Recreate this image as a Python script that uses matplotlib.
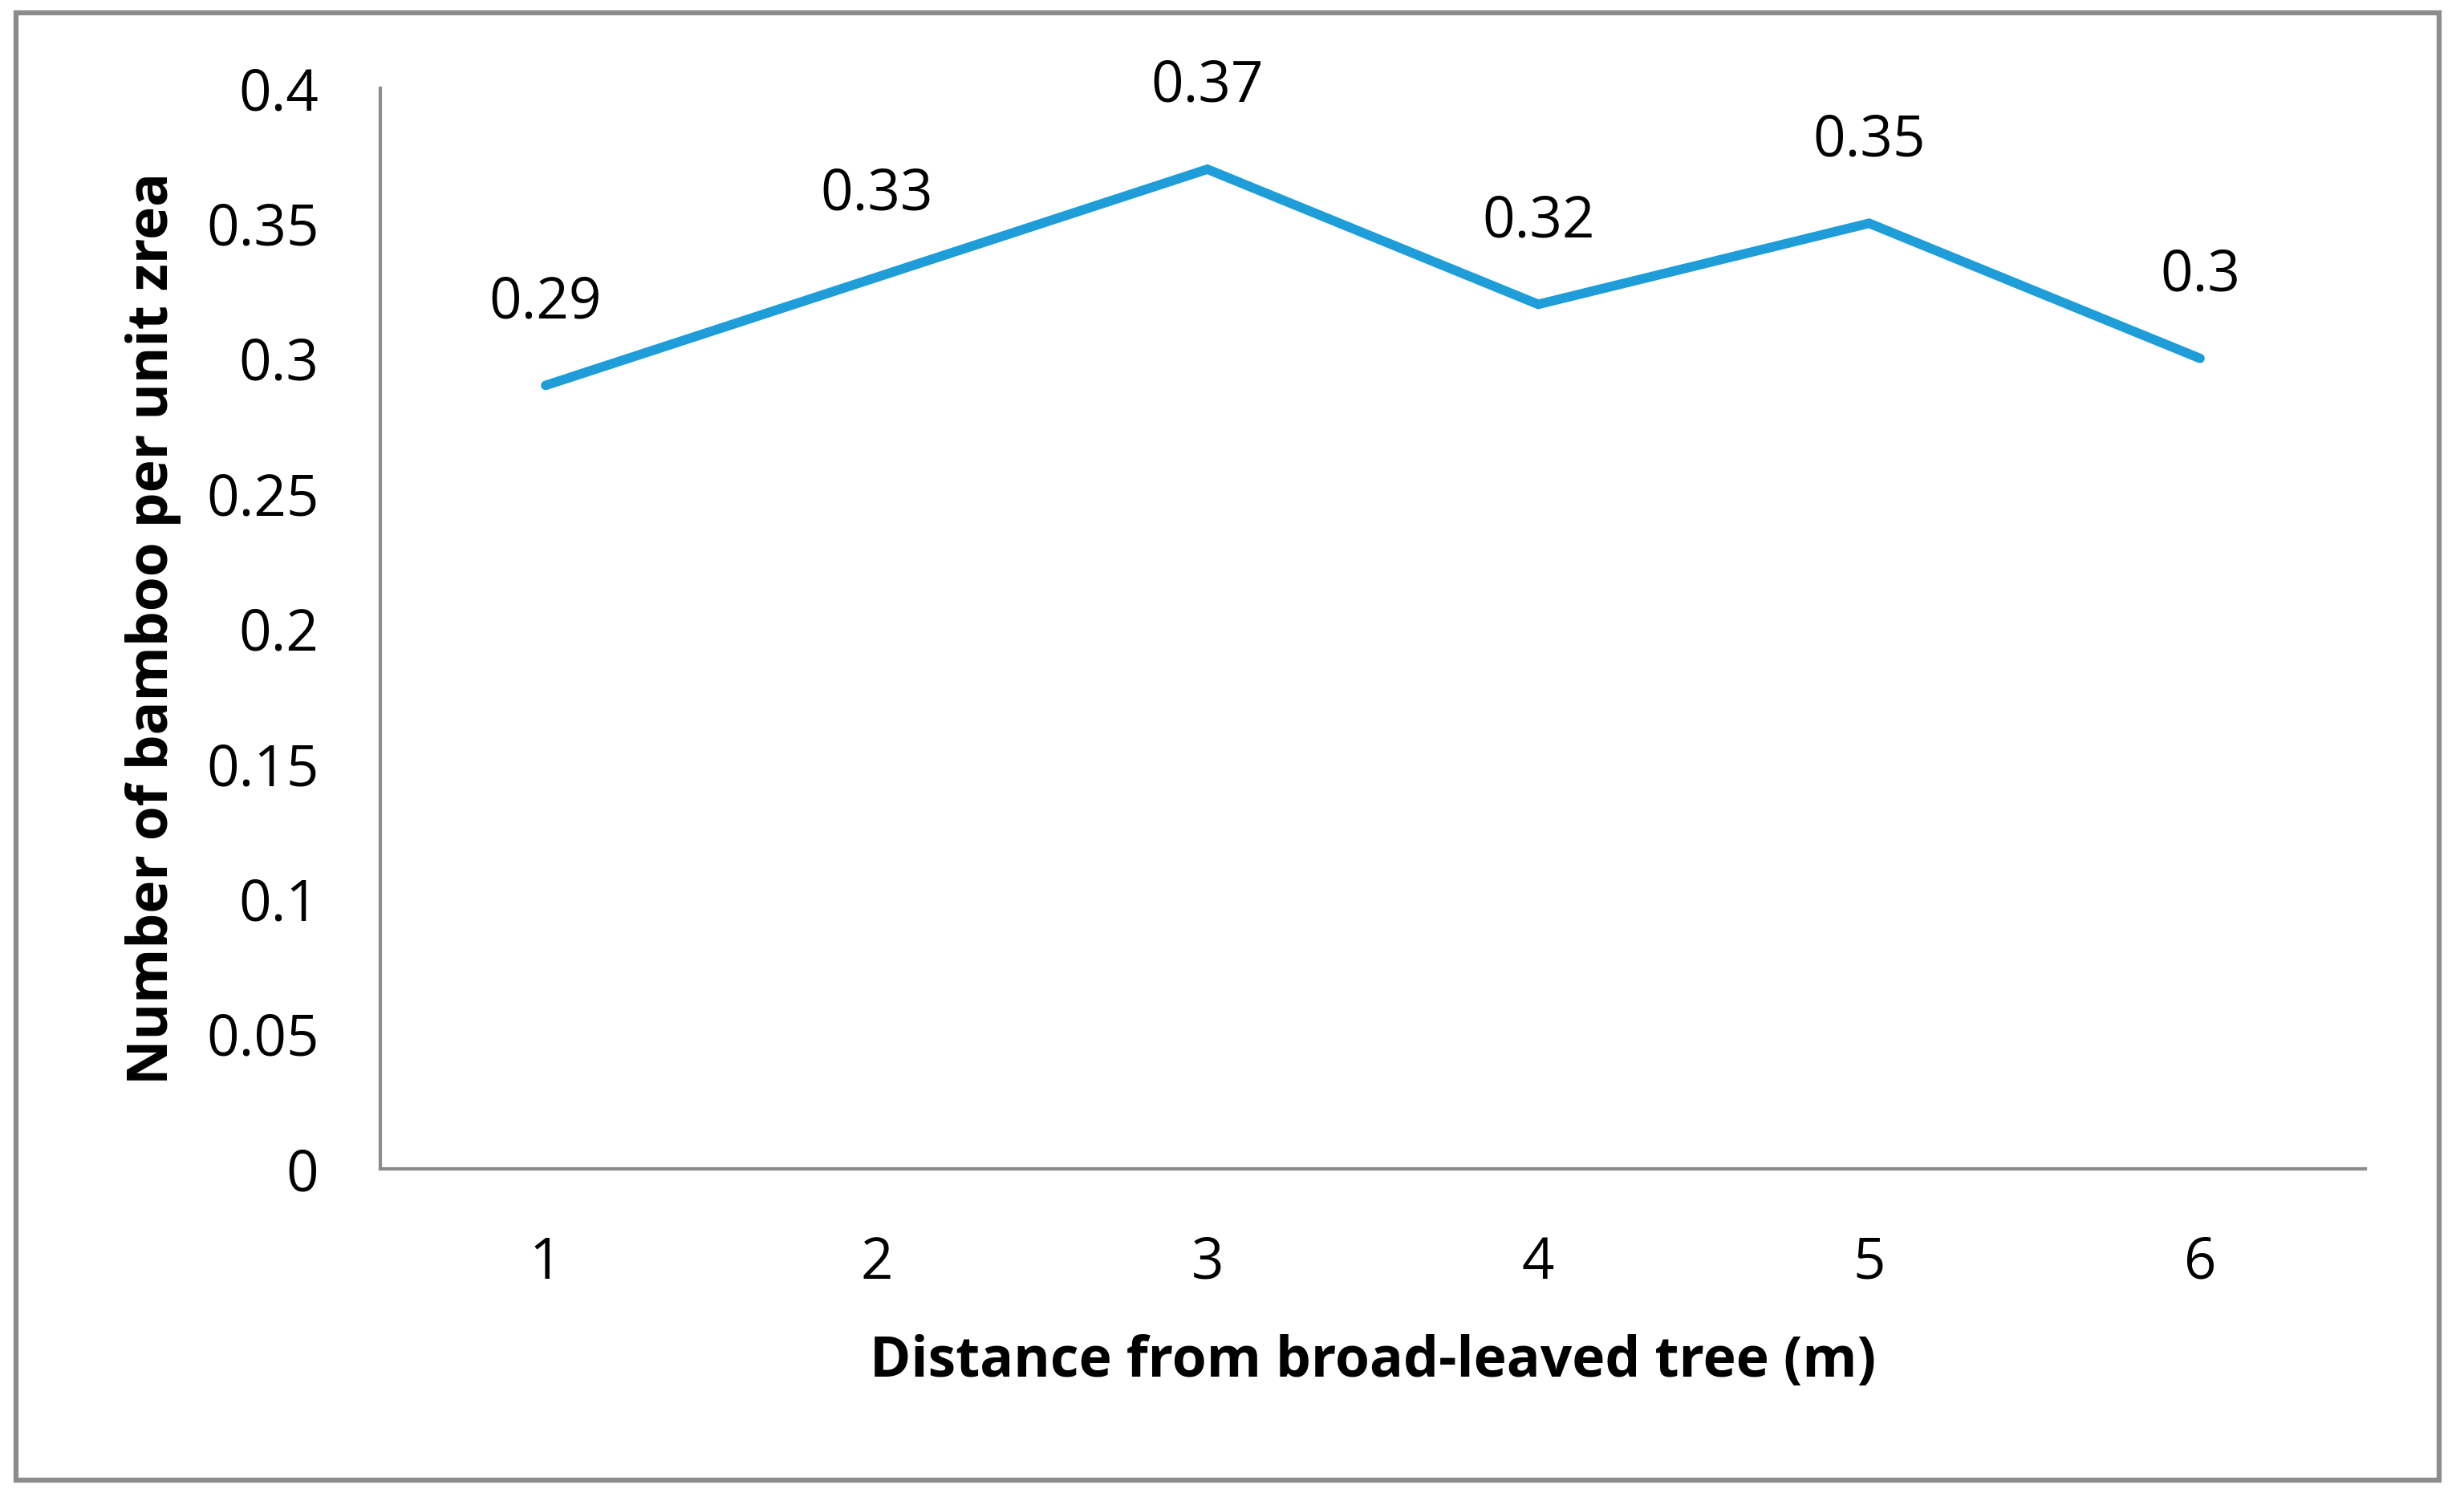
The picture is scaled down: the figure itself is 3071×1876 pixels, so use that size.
import matplotlib.pyplot as plt
from matplotlib.patches import Rectangle

# datos
distancia = [1, 2, 3, 4, 5, 6]
bambu = [0.29, 0.33, 0.37, 0.32, 0.35, 0.30]
etiquetas = ['0.29', '0.33', '0.37', '0.32', '0.35', '0.3']
yticks = [0, 0.05, 0.1, 0.15, 0.2, 0.25, 0.3, 0.35, 0.4]
ytick_labels = ['0', '0.05', '0.1', '0.15', '0.2', '0.25', '0.3', '0.35', '0.4']

plt.rcParams['font.family'] = ['Open Sans', 'DejaVu Sans']

fig = plt.figure(figsize=(30.71, 18.76), dpi=100)
ax = fig.add_axes([0.1543, 0.2233, 0.8057, 0.7181])

gris = '#8c8c8c'
azul = '#1f9dd9'

ax.plot(distancia, bambu, color=azul, linewidth=8.5, solid_capstyle='round', solid_joinstyle='miter')

for x, y, t in zip(distancia, bambu, etiquetas):
    ax.annotate(t, (x, y), xytext=(0, 74), textcoords='offset points',
                ha='center', va='center', fontsize=51)

ax.set_xlim(0.5, 6.5)
ax.set_ylim(0, 0.4)
ax.set_xticks(distancia)
ax.set_xticklabels([str(d) for d in distancia], fontsize=51)
ax.set_yticks(yticks)
ax.set_yticklabels(ytick_labels, fontsize=51)
ax.tick_params(axis='x', length=0, pad=59)
ax.tick_params(axis='y', length=0, pad=55)

for s in ['top', 'right']:
    ax.spines[s].set_visible(False)
for s in ['left', 'bottom']:
    ax.spines[s].set_color(gris)
    ax.spines[s].set_linewidth(3)

ax.set_xlabel('Distance from broad-leaved tree (m)', fontsize=50, fontweight='bold', labelpad=38)
ax.set_ylabel('Number of bamboo per unit zrea', fontsize=50, fontweight='bold', labelpad=22)

# borde del grafico
fig.patches.append(Rectangle((0.0065, 0.0165), 0.9835, 0.975, transform=fig.transFigure,
                             fill=False, edgecolor=gris, linewidth=4.5))

fig.savefig('out.png', dpi=100)
